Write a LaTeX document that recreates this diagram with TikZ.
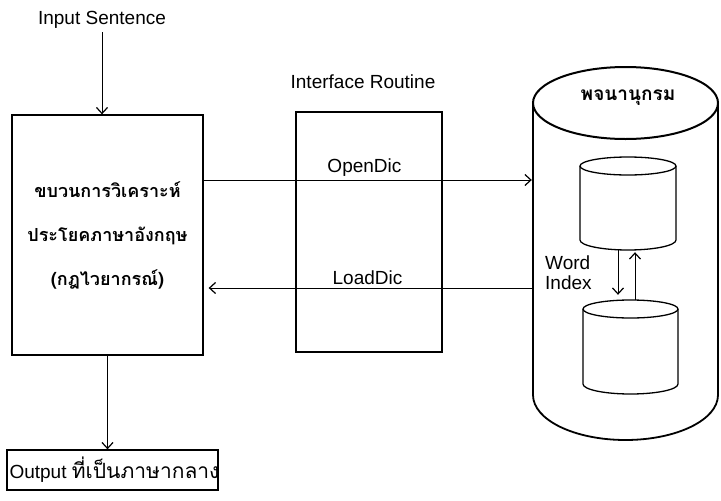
\documentclass[tikz,border=0pt]{standalone}
\usepackage{fontspec}
\setmainfont{Liberation Sans}
\newfontfamily\thai[Script=Thai]{Loma}
\usetikzlibrary{arrows.meta}
\begin{document}
\begin{tikzpicture}[x=1pt,y=-1pt,
  box/.style={draw,line width=1.3pt,inner sep=0pt},
  ghost/.style={inner sep=0pt},
  arr/.style={line width=1pt,-{Straight Barb[length=6pt,width=11pt,line width=1.2pt]}},
  lbl/.style={font=\fontsize{19}{22}\selectfont},
  thaitxt/.style={font=\thai\bfseries\fontsize{18}{44}\selectfont},
  cyl/.style={line width=1.3pt}]
\useasboundingbox (0,0) rectangle (721,501);
% input
\node[lbl] (inp) at (102,20) {Input Sentence};
% main box
\node[box,minimum width=191pt,minimum height=240pt,align=center,thaitxt] (main) at (107.5,235)
  {ขบวนการวิเคราะห์\\ประโยคภาษาอังกฤษ\\(กฎไวยากรณ์)};
% output box
\node[box,minimum width=211pt,minimum height=40pt] (out) at (112.5,470) {};
\node[anchor=west,inner sep=0pt] (outtxt) at ([xshift=3pt]out.west)
  {\fontsize{19}{22}\selectfont Output {\thai\fontsize{21}{22}\selectfont ที่เป็นภาษากลาง}};
% interface
\node[lbl] (ifl) at (363,82) {Interface Routine};
\node[box,line width=1.1pt,minimum width=146pt,minimum height=240pt] (iface) at (369,232) {};
% dictionary cylinder
\node[ghost,minimum width=185pt,minimum height=373pt] (dict) at (625.5,253.5) {};
\draw[cyl,line width=1.8pt] (533,103) -- (533,395) arc[start angle=180,end angle=0,x radius=92.5,y radius=45] -- (718,103);
\draw[cyl,line width=2pt,fill=white] (625.5,103) ellipse[x radius=92.5,y radius=36];
\node[font=\thai\bfseries\fontsize{19}{22}\selectfont] (dictl) at (628,98) {พจนานุกรม};
% small cylinders
\node[ghost,minimum width=96pt,minimum height=93pt] (c1) at (628,203.5) {};
\draw[cyl] (580,166) -- (580,240) arc[start angle=180,end angle=0,x radius=48,y radius=10] -- (676,166);
\draw[cyl] (628,166) ellipse[x radius=48,y radius=9];
\node[ghost,minimum width=95pt,minimum height=94pt] (c2) at (630.5,347) {};
\draw[cyl] (583,309) -- (583,384) arc[start angle=180,end angle=0,x radius=47.5,y radius=10] -- (678,309);
\draw[cyl] (630.5,309) ellipse[x radius=47.5,y radius=9];
\node[anchor=west,align=left,font=\fontsize{19}{20}\selectfont,inner sep=0pt] (wi) at (545,273) {Word\\Index};
% connectors
\draw[arr] (inp.south) -- (inp.south |- main.north);
\draw[arr] (main.south) -- (main.south |- out.north);
\coordinate (yo) at (0,180);
\coordinate (yl) at (0,288);
\draw[arr] (main.east |- yo) -- node[pos=0.49,above,lbl,inner sep=3pt] (od) {OpenDic} ([xshift=-1pt]dict.west |- yo);
\draw[arr] (dict.west |- yl) -- node[pos=0.51,above,lbl,inner sep=3pt] (ld) {LoadDic} ([xshift=5pt]main.east |- yl);
\draw[arr] ([xshift=-10pt]c1.south) -- ([xshift=-12.5pt,yshift=5pt]c2.north);
\draw[arr] ([xshift=4.5pt]c2.north) -- ([xshift=7pt,yshift=-2pt]c1.south);
\end{tikzpicture}
\end{document}
